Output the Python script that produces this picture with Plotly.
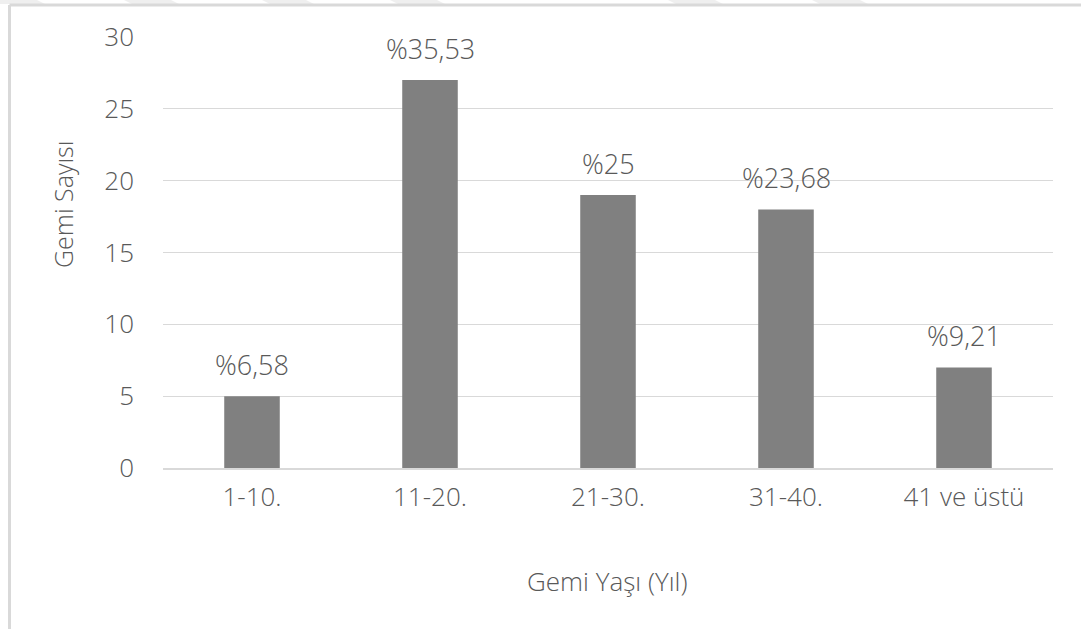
import plotly.graph_objects as go

# Ship counts by age group
age_groups = ["1-10.", "11-20.", "21-30.", "31-40.", "41 ve üstü"]
ship_counts = [5, 27, 19, 18, 7]
y_ticks = [0, 5, 10, 15, 20, 25, 30]

total = sum(ship_counts)


def pct_label(v):
    p = round(v / total * 100, 2)
    s = f"{p:.2f}".rstrip("0").rstrip(".")
    return "%" + s.replace(".", ",")


labels = [pct_label(v) for v in ship_counts]

W, H = 1081, 629
L, R, T, B = 163, 28, 37, 161
PW, PH = W - L - R, H - T - B

TEXT = "#595959"
GRID = "#d9d9d9"
FONT = "Open Sans"
WEIGHT = 300


def px(x):
    return (x - L) / PW


def py(y):
    return (H - B - y) / PH


fig = go.Figure(
    go.Bar(
        x=age_groups,
        y=ship_counts,
        marker=dict(color="#808080", line=dict(width=0)),
        width=0.312,
        hoverinfo="skip",
    )
)

# percentage labels above each bar
for cat, v, lab in zip(age_groups, ship_counts, labels):
    fig.add_annotation(
        x=cat, y=v, text=lab, showarrow=False, xref="x", yref="y",
        yanchor="bottom", yshift=11,
        font=dict(family=FONT, size=27, color=TEXT, weight=WEIGHT),
    )

# axis titles
fig.add_annotation(
    x=px(607), y=py(581), xref="paper", yref="paper", text="Gemi Yaşı (Yıl)",
    showarrow=False, xanchor="center", yanchor="middle",
    font=dict(family=FONT, size=26, color=TEXT, weight=WEIGHT),
)
fig.add_annotation(
    x=px(63), y=py(205), xref="paper", yref="paper", text="Gemi Sayısı",
    showarrow=False, textangle=-90, xanchor="center", yanchor="middle",
    font=dict(family=FONT, size=25, color=TEXT, weight=WEIGHT),
)

shapes = []
# chart frame (top and left edges)
shapes.append(dict(type="line", xref="paper", yref="paper",
                   x0=px(9.5), x1=px(1081), y0=py(5), y1=py(5),
                   line=dict(color=GRID, width=3)))
shapes.append(dict(type="line", xref="paper", yref="paper",
                   x0=px(9.5), x1=px(9.5), y0=py(5), y1=py(629),
                   line=dict(color=GRID, width=3)))
# faint slanted strips along the top edge
for x0, x1 in [(-10, 45), (124, 179), (262, 314), (390, 445), (668, 723), (812, 868)]:
    path = (f"M {px(x0)},{py(0)} L {px(x1 - 8)},{py(0)} "
            f"L {px(x1)},{py(4)} L {px(x0 + 8)},{py(4)} Z")
    shapes.append(dict(type="path", xref="paper", yref="paper", path=path,
                       fillcolor="#efefef", line=dict(width=0), layer="below"))

fig.update_layout(
    width=W, height=H,
    margin=dict(l=L, r=R, t=T, b=B, pad=0),
    paper_bgcolor="white", plot_bgcolor="white",
    showlegend=False,
    shapes=shapes,
    font=dict(family=FONT, color=TEXT),
    xaxis=dict(
        type="category",
        showgrid=False, zeroline=False,
        showline=True, linecolor=GRID, linewidth=2,
        ticks="", tickfont=dict(family=FONT, size=26, color=TEXT, weight=WEIGHT),
        ticklabelstandoff=5,
        fixedrange=True,
    ),
    yaxis=dict(
        range=[0, 30], tickvals=y_ticks,
        showgrid=True, gridcolor=GRID, gridwidth=1,
        zeroline=False, showline=False,
        ticks="", tickfont=dict(family=FONT, size=26, color=TEXT, weight=WEIGHT),
        ticklabelstandoff=28,
        fixedrange=True,
    ),
)

fig.write_html("out.html", config={"displayModeBar": False})
